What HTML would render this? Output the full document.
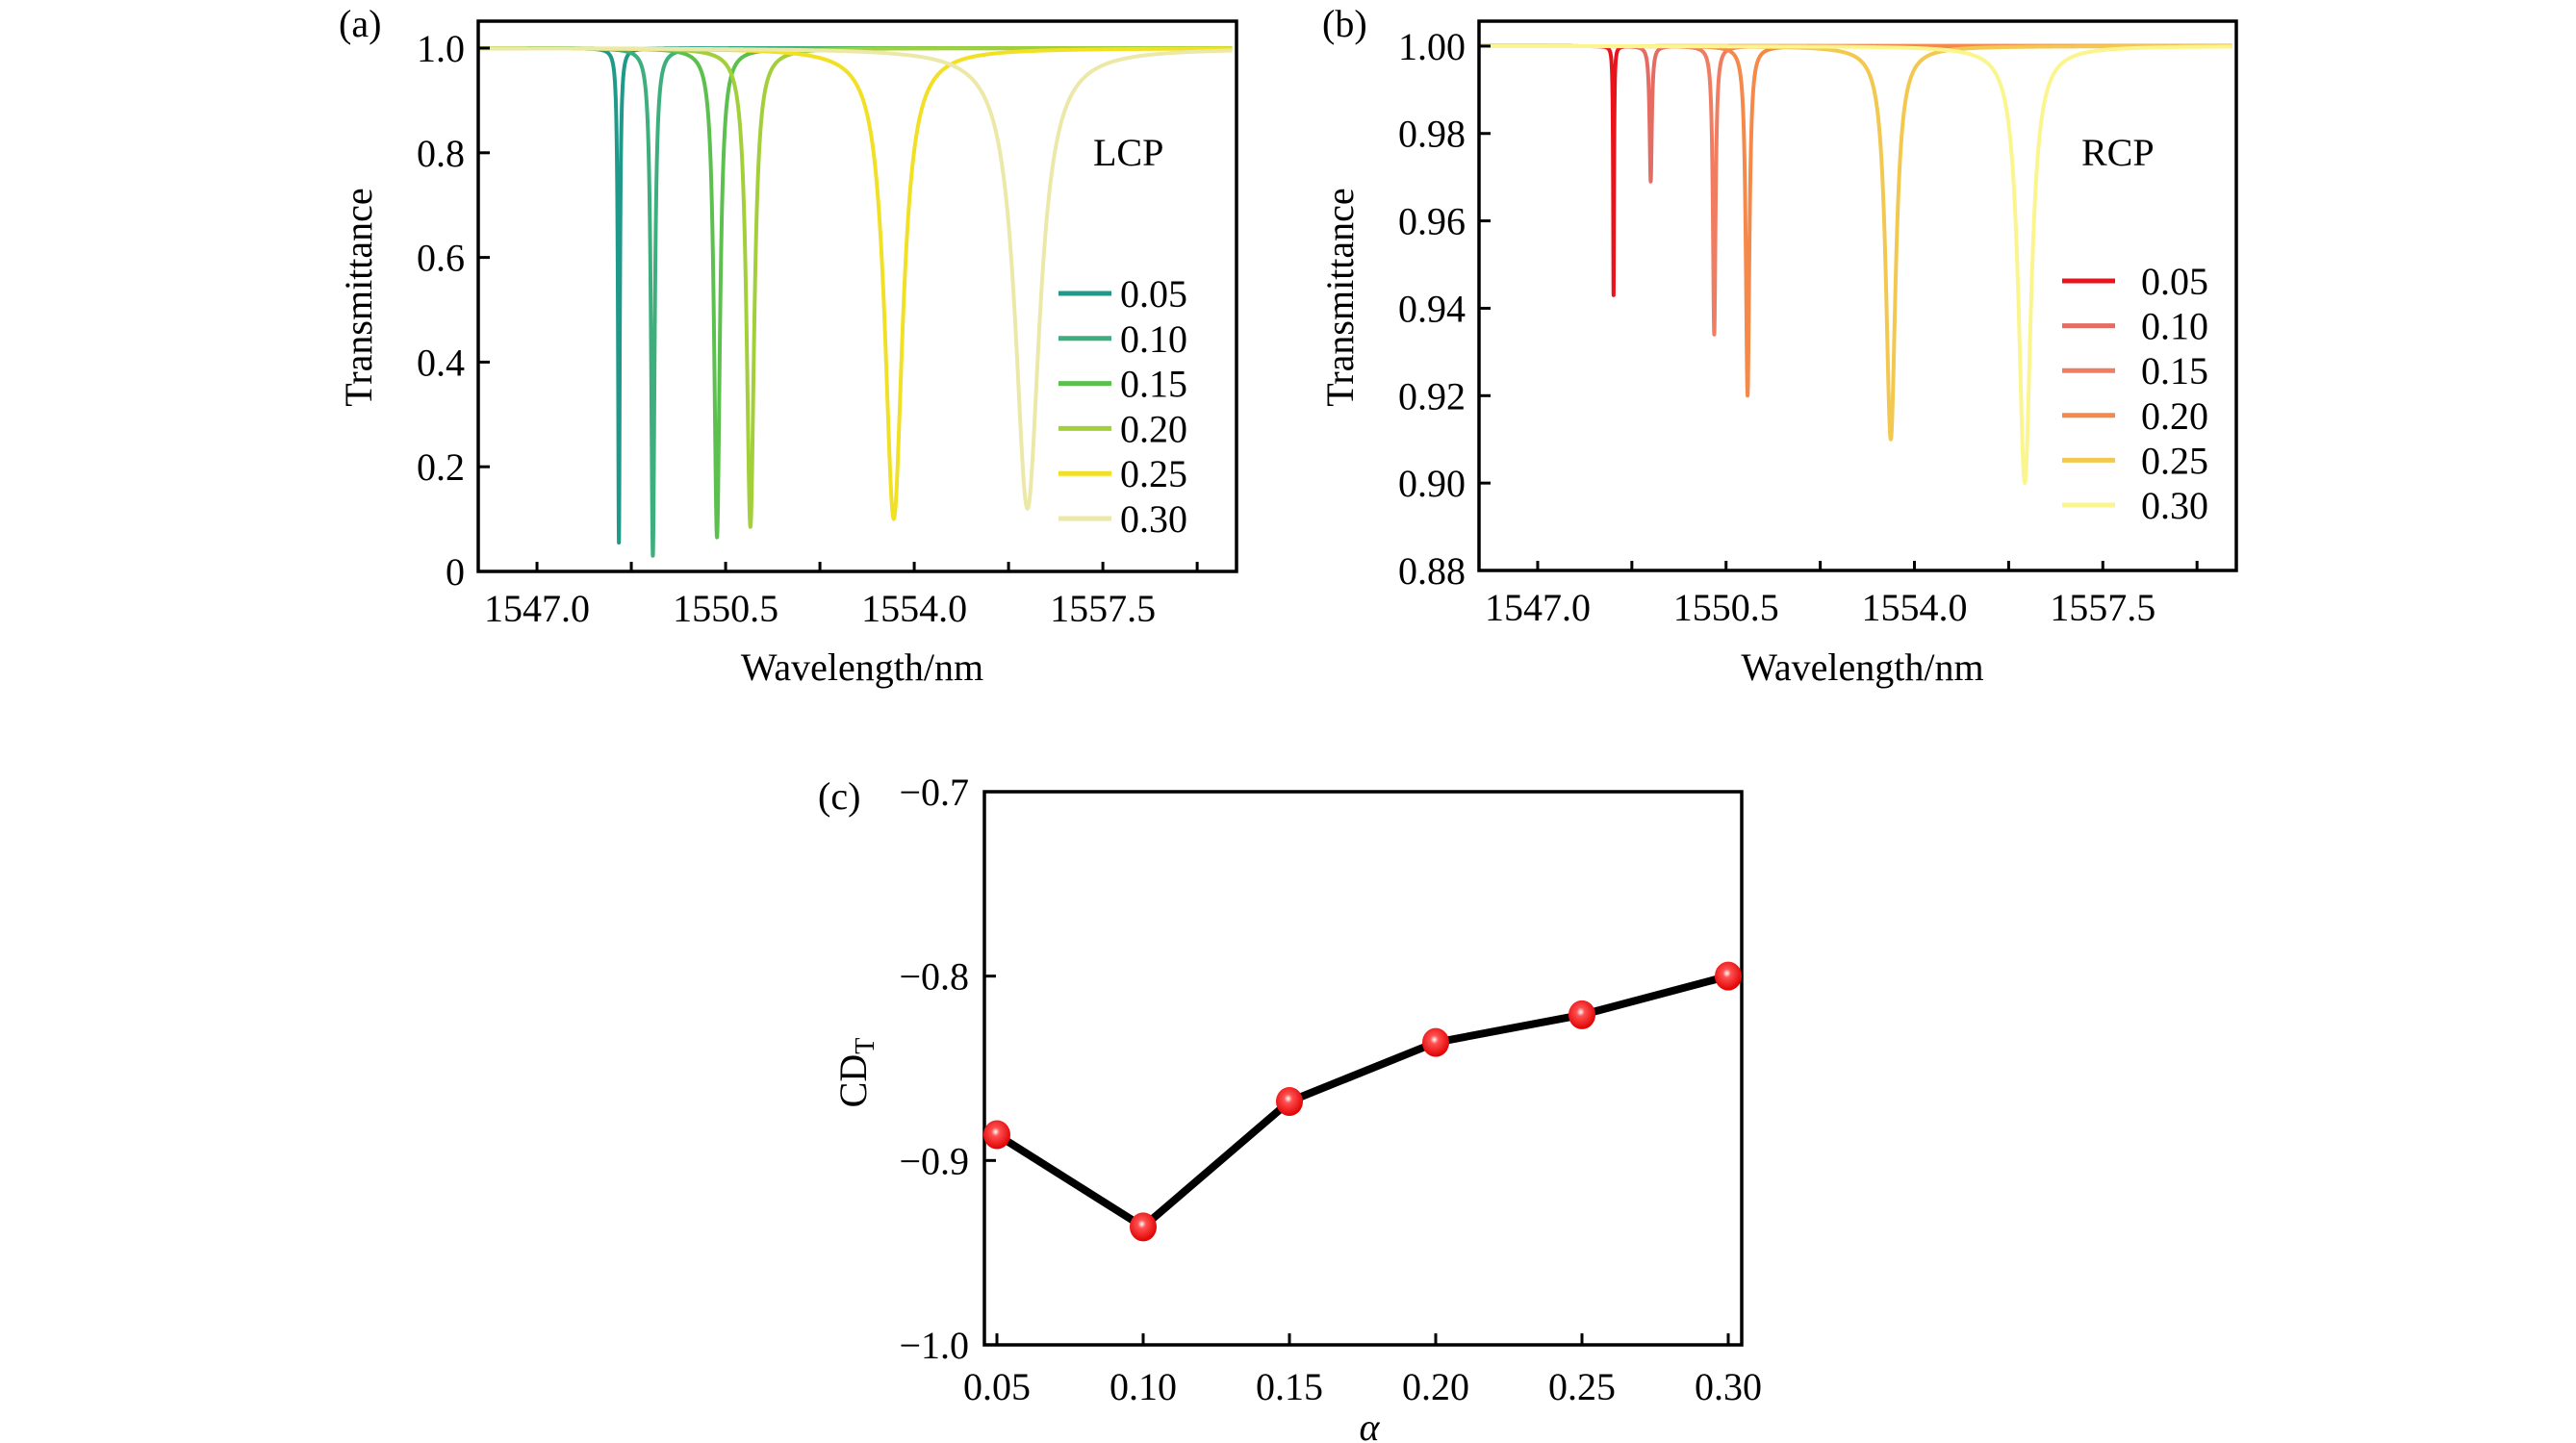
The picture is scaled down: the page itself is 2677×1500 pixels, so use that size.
<!DOCTYPE html>
<html><head><meta charset="utf-8"><style>
html,body{margin:0;padding:0;background:#fff;}
svg{display:block;font-family:"Liberation Serif","DejaVu Serif",serif;}
</style></head><body>
<svg id="fig" width="2677" height="1500" viewBox="0 0 2677 1500" xmlns="http://www.w3.org/2000/svg"></svg>
<script>
// ---------- data ----------
const alphaLabels = ["0.05","0.10","0.15","0.20","0.25","0.30"];
const lcpCenters = [1548.52,1549.15,1550.34,1550.96,1553.62,1556.10];
const lcpMins    = [0.055,0.030,0.065,0.085,0.100,0.120];
const lcpFwhm    = [0.04,0.08,0.13,0.17,0.40,0.55];
const rcpCenters = [1548.41,1549.10,1550.28,1550.90,1553.56,1556.05];
const rcpMins    = [0.943,0.969,0.934,0.920,0.910,0.900];
const rcpFwhm    = [0.02,0.05,0.06,0.08,0.22,0.28];
const lcpColors = ["#1f9a8a","#3caf7c","#5cc04f","#a2cf3a","#f2e024","#ece8a8"];
const rcpColors = ["#e8141c","#e46c62","#f07d62","#f5894a","#f3c850","#fbf58e"];
const wlTicks = [1547.0,1550.5,1554.0,1557.5];
const wlTickLabels = ["1547.0","1550.5","1554.0","1557.5"];
const lcpYTicks = [0,0.2,0.4,0.6,0.8,1.0];
const lcpYLabels = ["0","0.2","0.4","0.6","0.8","1.0"];
const rcpYTicks = [0.88,0.90,0.92,0.94,0.96,0.98,1.00];
const rcpYLabels = ["0.88","0.90","0.92","0.94","0.96","0.98","1.00"];
const cdAlpha = [0.05,0.10,0.15,0.20,0.25,0.30];
const cdValues = [-0.886,-0.936,-0.868,-0.836,-0.821,-0.800];
const cdXLabels = ["0.05","0.10","0.15","0.20","0.25","0.30"];
const cdYTicks = [-1.0,-0.9,-0.8,-0.7];
const cdYLabels = ["\u22121.0","\u22120.9","\u22120.8","\u22120.7"];

const NS="http://www.w3.org/2000/svg";
const svg=document.getElementById('fig');
function mk(tag,attrs,parent,text){const e=document.createElementNS(NS,tag);for(const k in attrs)e.setAttribute(k,attrs[k]);if(text!==undefined)e.textContent=text;(parent||svg).appendChild(e);return e;}
function lin(d0,d1,r0,r1){return v=>r0+(v-d0)*(r1-r0)/(d1-d0);}
const FS=40;

function spectrumPanel(o){
  const g=mk('g',{});
  
  
  const X=lin(1545.91,1559.98,o.L,o.R), Y=lin(o.y0,o.y1,o.B,o.T);
  const cl=mk('clipPath',{id:o.name+'clip'},g);
  mk('rect',{x:o.L,y:o.T,width:o.R-o.L,height:o.B-o.T},cl);
  const cg=mk('g',{'clip-path':'url(#'+o.name+'clip)'},g);
  
  
  for(let i=0;i<o.centers.length;i++){
    const c=o.centers[i],m=o.mins[i],hw=o.fwhm[i]/2;
    let d='';
    const pts=[];
    for(let k=0;k<=1400;k++)pts.push(1545.9+k*0.01);
    for(let k=-60;k<=60;k++)pts.push(c+k*hw/20);
    pts.sort((a,b)=>a-b);
    pts.forEach((x,j)=>{const t=1-(1-m)/(1+Math.pow((x-c)/hw,2));d+=(j?'L':'M')+X(x).toFixed(2)+' '+Y(t).toFixed(2);});
    const p=mk('path',{d:d,fill:'none',stroke:o.colors[i],'stroke-width':4,'stroke-linejoin':'round'},cg);
    
    
  }
  const fr=mk('rect',{x:o.L,y:o.T,width:o.R-o.L,height:o.B-o.T,fill:'none',stroke:'#000','stroke-width':3.5},g);
  
  
  for(let v=1547.0;v<1560;v+=1.75){mk('line',{x1:X(v),x2:X(v),y1:o.B,y2:o.B-10,stroke:'#000','stroke-width':3},g);}
  wlTicks.forEach((v,i)=>{const t=mk('text',{x:X(v),y:o.B+52,'font-size':FS,'text-anchor':'middle'},g,wlTickLabels[i]);
    
    });
  o.yticks.forEach((v,i)=>{mk('line',{x1:o.L,x2:o.L+12,y1:Y(v),y2:Y(v),stroke:'#000','stroke-width':3},g);
    const t=mk('text',{x:o.L-14,y:Y(v)+14,'font-size':FS,'text-anchor':'end'},g,o.ylabels[i]);
    
    });
  const xt=mk('text',{x:(o.L+o.R)/2+5,y:707,'font-size':FS,'text-anchor':'middle'},g,'Wavelength/nm');
  
  
  const yt=mk('text',{x:o.ytx,y:309,'font-size':FS,'text-anchor':'middle',transform:'rotate(-90 '+o.ytx+' 309)'},g,'Transmittance');
  
  
  const pl=mk('text',{x:o.plx,y:38,'font-size':FS},g,o.panel);
  
  
  const pol=mk('text',{x:o.polx,y:172,'font-size':FS},g,o.pol);
  
  
  o.labels.forEach((lab,i)=>{const y=o.legY+i*o.legDy;
    const le=mk('g',{},g);
    
    
    mk('line',{x1:o.legX,x2:o.legX+55,y1:y,y2:y,stroke:o.colors[i],'stroke-width':5},le);
    mk('text',{x:o.legX+o.legGap,y:y+14,'font-size':FS},le,lab);});
}
spectrumPanel({name:'panel-a-lcp',L:497,R:1285,T:22,B:594,y0:0,y1:1.0515,
  centers:lcpCenters,mins:lcpMins,fwhm:lcpFwhm,colors:lcpColors,labels:alphaLabels,
  yticks:lcpYTicks,ylabels:lcpYLabels,ytx:386,plx:352,panel:'(a)',polx:1136,pol:'LCP',legX:1100,legGap:64,legY:305,legDy:46.8});
spectrumPanel({name:'panel-b-rcp',L:1537,R:2324,T:22,B:593,y0:0.88,y1:1.0057,
  centers:rcpCenters,mins:rcpMins,fwhm:rcpFwhm,colors:rcpColors,labels:alphaLabels,
  yticks:rcpYTicks,ylabels:rcpYLabels,ytx:1406,plx:1374,panel:'(b)',polx:2163,pol:'RCP',legX:2143,legGap:82,legY:292,legDy:46.6});

// ---------- panel c ----------
(function(){
  const L=1023,R=1810,T=823,B=1398;
  const g=mk('g',{});
  
  
  const X=lin(0.05,0.30,1036,1796), Y=lin(-1.0,-0.7,B,T);
  const fr=mk('rect',{x:L,y:T,width:R-L,height:B-T,fill:'none',stroke:'#000','stroke-width':3.5},g);
  
  
  cdAlpha.forEach((v,i)=>{mk('line',{x1:X(v),x2:X(v),y1:B,y2:B-12,stroke:'#000','stroke-width':3},g);
    const t=mk('text',{x:X(v),y:B+57,'font-size':FS,'text-anchor':'middle'},g,cdXLabels[i]);
    
    });
  cdYTicks.forEach((v,i)=>{mk('line',{x1:L,x2:L+12,y1:Y(v),y2:Y(v),stroke:'#000','stroke-width':3},g);
    const t=mk('text',{x:L-16,y:Y(v)+14,'font-size':FS,'text-anchor':'end'},g,cdYLabels[i]);
    
    });
  const defs=mk('defs',{},g);
  const rg=mk('radialGradient',{id:'ball',cx:'0.45',cy:'0.4',r:'0.6'},defs);
  mk('stop',{offset:'0','stop-color':'#fff'},rg);mk('stop',{offset:'0.25','stop-color':'#ff5050'},rg);mk('stop',{offset:'1','stop-color':'#e00000'},rg);
  const d=cdAlpha.map((a,i)=>(i?'L':'M')+X(a)+' '+Y(cdValues[i])).join('');
  const ln=mk('path',{d:d,fill:'none',stroke:'#000','stroke-width':8,'stroke-linejoin':'round'},g);
  
  
  cdAlpha.forEach((a,i)=>{const c=mk('ellipse',{cx:X(a),cy:Y(cdValues[i]),rx:14,ry:15,fill:'url(#ball)'},g);
    
    });
  const pl=mk('text',{x:850,y:841,'font-size':FS},g,'(c)');
  
  
  const yt=mk('text',{x:900,y:1115,'font-size':FS,'text-anchor':'middle',transform:'rotate(-90 900 1115)'},g);
  
  
  mk('tspan',{},yt,'CD');mk('tspan',{'font-size':28,dy:8},yt,'T');
  const xt=mk('text',{x:1423,y:1497,'font-size':FS,'font-style':'italic','text-anchor':'middle'},g,'\u03b1');
  
  
})();
</script>
</body></html>
